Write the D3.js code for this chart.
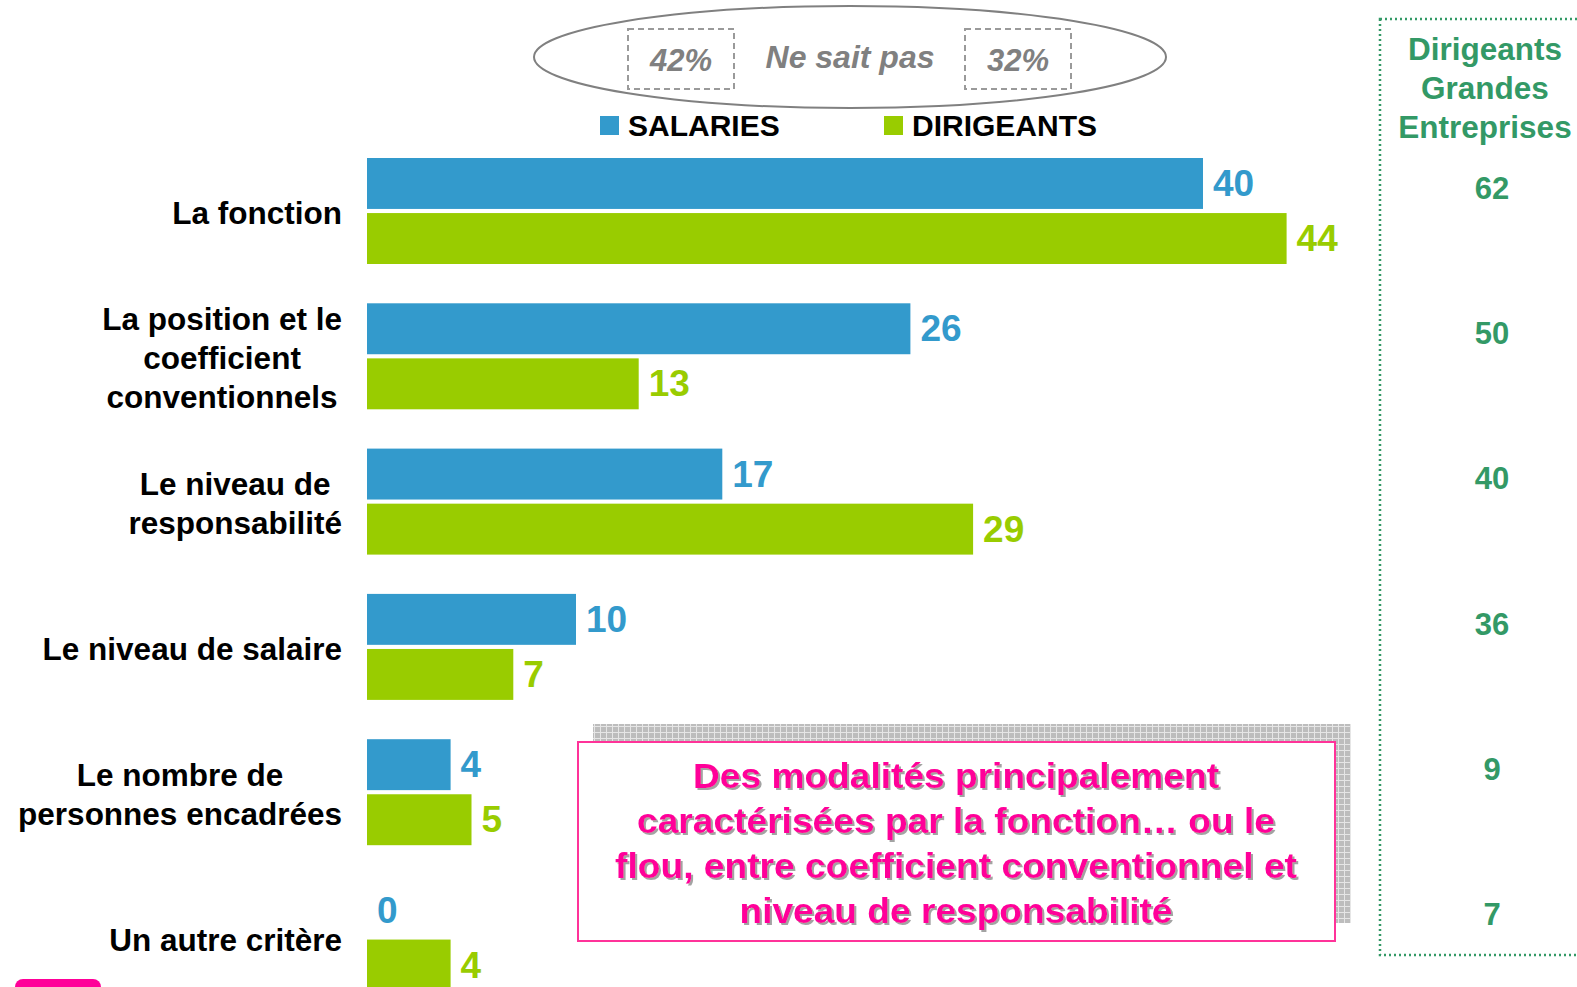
<!DOCTYPE html>
<html>
<head>
<meta charset="utf-8">
<script src="https://cdn.jsdelivr.net/npm/d3@7"></script>
<style>
  body { margin: 0; background: #fff; }
  svg { display: block; font-family: "Liberation Sans", Arial, sans-serif; }
</style>
</head>
<body>
<svg width="1577" height="987"></svg>
<script>
// data
const categories = [
    ["La fonction"],
    ["La position et le", "coefficient", "conventionnels"],
    ["Le niveau de", "responsabilité"],
    ["Le niveau de salaire"],
    ["Le nombre de", "personnes encadrées"],
    ["Un autre critère"]
];
const series = ["SALARIES", "DIRIGEANTS"];
const salaries = [40, 26, 17, 10, 4, 0];
const dirigeants = [44, 13, 29, 7, 5, 4];
const grandesEntreprises = [62, 50, 40, 36, 9, 7];
const nspLabel = "Ne sait pas";
const nspValues = ["42%", "32%"];
const sideTitle = ["Dirigeants", "Grandes", "Entreprises"];
const noteLines = [
    "Des modalités principalement",
    "caractérisées par la fonction… ou le",
    "flou, entre coefficient conventionnel et",
    "niveau de responsabilité"
];

const blue = "#339acc", green = "#99cc00", darkGreen = "#339966", pink = "#ff0099";
const colors = [blue, green];

const svg = d3.select("svg");

const defs = svg.append("defs");
const pat = defs.append("pattern")
    .attr("id", "grid")
    .attr("width", 6).attr("height", 6)
    .attr("patternUnits", "userSpaceOnUse");
pat.append("rect").attr("width", 6).attr("height", 6).attr("fill", "#bdbdbd");
pat.append("path").attr("d", "M0,0.5H6M0.5,0V6").attr("stroke", "#e6e6e6").attr("stroke-width", 1);

defs.append("filter").attr("id", "shadow")
  .append("feDropShadow")
    .attr("dx", 2).attr("dy", 2).attr("stdDeviation", 0.6)
    .attr("flood-color", "#999").attr("flood-opacity", 0.9);

// scales
const step = 145.3;
const idx = d3.range(categories.length);
const y = d3.scaleBand()
    .domain(idx)
    .range([158, 158 + step * categories.length]);

const ySub = d3.scaleBand()
    .domain(series)
    .range([0, 106])
    .paddingInner(0.075);

const x = d3.scaleLinear()
    .domain([0, 44])
    .range([367, 367 + 44 * 20.9]);

const rows = idx.map(i => ({i, values: [salaries[i], dirigeants[i]]}));

// bars
const groups = svg.selectAll(".group")
    .data(rows)
    .join("g")
      .attr("class", "group")
      .attr("transform", d => `translate(0,${y(d.i)})`);

groups.selectAll("rect")
    .data(d => d.values.map((v, k) => ({key: series[k], v, k})))
    .join("rect")
      .attr("x", x(0))
      .attr("y", d => ySub(d.key))
      .attr("width", d => x(d.v) - x(0))
      .attr("height", ySub.bandwidth())
      .attr("fill", d => colors[d.k]);

groups.selectAll("text.val")
    .data(d => d.values.map((v, k) => ({key: series[k], v, k})))
    .join("text")
      .attr("class", "val")
      .attr("x", d => x(d.v) + 10)
      .attr("y", d => ySub(d.key) + ySub.bandwidth() / 2)
      .attr("dy", "0.34em")
      .attr("fill", d => colors[d.k])
      .style("font-size", "37px")
      .style("font-weight", "bold")
      .text(d => d.v);

// category labels: block right-aligned at 342, lines centered within it
const lineH = 39;
groups.each(function(d) {
    const g = d3.select(this);
    const lines = categories[d.i];
    const mid = 55;
    const t = g.selectAll("text.cat")
        .data(lines)
        .join("text")
          .attr("class", "cat")
          .attr("y", (l, j) => mid + (j - (lines.length - 1) / 2) * lineH)
          .attr("dy", "0.35em")
          .attr("text-anchor", "middle")
          .style("font-size", "31.5px")
          .style("font-weight", "bold")
          .attr("fill", "#000")
          .text(l => l);
    let maxW = 0;
    t.each(function() { maxW = Math.max(maxW, this.getComputedTextLength()); });
    t.attr("x", 342 - maxW / 2);
});

// "Ne sait pas" ellipse
svg.append("ellipse")
    .attr("cx", 850).attr("cy", 57)
    .attr("rx", 316).attr("ry", 51)
    .attr("fill", "none")
    .attr("stroke", "#808080")
    .attr("stroke-width", 2);

[628, 965].forEach((bx, k) => {
    svg.append("rect")
        .attr("x", bx).attr("y", 29)
        .attr("width", 106).attr("height", 60)
        .attr("fill", "none")
        .attr("stroke", "#9a9a9a")
        .attr("stroke-width", 2)
        .attr("stroke-dasharray", "6,4");
    svg.append("text")
        .attr("x", bx + 53).attr("y", 60)
        .attr("dy", "0.35em")
        .attr("text-anchor", "middle")
        .attr("fill", "#808080")
        .style("font-size", "31px")
        .style("font-weight", "bold")
        .style("font-style", "italic")
        .text(nspValues[k]);
});

svg.append("text")
    .attr("x", 850).attr("y", 57)
    .attr("dy", "0.35em")
    .attr("text-anchor", "middle")
    .attr("fill", "#808080")
    .style("font-size", "32px")
    .style("font-weight", "bold")
    .style("font-style", "italic")
    .text(nspLabel);

// legend
const legend = svg.selectAll(".legend")
    .data(series)
    .join("g")
      .attr("class", "legend")
      .attr("transform", (d, i) => `translate(${[600, 884][i]},116)`);

legend.append("rect")
    .attr("width", 19).attr("height", 19)
    .attr("fill", (d, i) => colors[i]);

legend.append("text")
    .attr("x", 28).attr("y", 9.5)
    .attr("dy", "0.34em")
    .style("font-size", "30px")
    .style("font-weight", "bold")
    .attr("fill", "#000")
    .text(d => d);

// side column: Dirigeants Grandes Entreprises
svg.append("rect")
    .attr("x", 1380).attr("y", 19)
    .attr("width", 300).attr("height", 936)
    .attr("fill", "none")
    .attr("stroke", darkGreen)
    .attr("stroke-width", 2.5)
    .attr("stroke-dasharray", "2,3");

svg.selectAll(".sideTitle")
    .data(sideTitle)
    .join("text")
      .attr("class", "sideTitle")
      .attr("x", 1485)
      .attr("y", (d, i) => 49 + i * 39)
      .attr("dy", "0.35em")
      .attr("text-anchor", "middle")
      .attr("fill", darkGreen)
      .style("font-size", "31.5px")
      .style("font-weight", "bold")
      .text(d => d);

svg.selectAll(".sideVal")
    .data(grandesEntreprises)
    .join("text")
      .attr("class", "sideVal")
      .attr("x", 1492)
      .attr("y", (d, i) => y(i) + 30)
      .attr("dy", "0.35em")
      .attr("text-anchor", "middle")
      .attr("fill", darkGreen)
      .style("font-size", "31px")
      .style("font-weight", "bold")
      .text(d => d);

// note box
svg.append("rect")
    .attr("x", 593).attr("y", 724)
    .attr("width", 758).attr("height", 199)
    .attr("fill", "url(#grid)");

svg.append("rect")
    .attr("x", 578).attr("y", 742)
    .attr("width", 757).attr("height", 199)
    .attr("fill", "#fff")
    .attr("stroke", "#ff3399")
    .attr("stroke-width", 2);

const noteW = [526, 638, 682, 433];
svg.selectAll(".note")
    .data(noteLines)
    .join("text")
      .attr("class", "note")
      .attr("x", 956)
      .attr("y", (d, i) => 776 + i * 45)
      .attr("dy", "0.35em")
      .attr("text-anchor", "middle")
      .attr("fill", pink)
      .attr("filter", "url(#shadow)")
      .attr("textLength", (d, i) => noteW[i])
      .attr("lengthAdjust", "spacingAndGlyphs")
      .style("font-size", "35px")
      .style("font-weight", "bold")
      .text(d => d);

// pink tab bottom-left
svg.append("rect")
    .attr("x", 15).attr("y", 979)
    .attr("width", 86).attr("height", 30)
    .attr("rx", 8)
    .attr("fill", pink);
</script>
</body>
</html>
